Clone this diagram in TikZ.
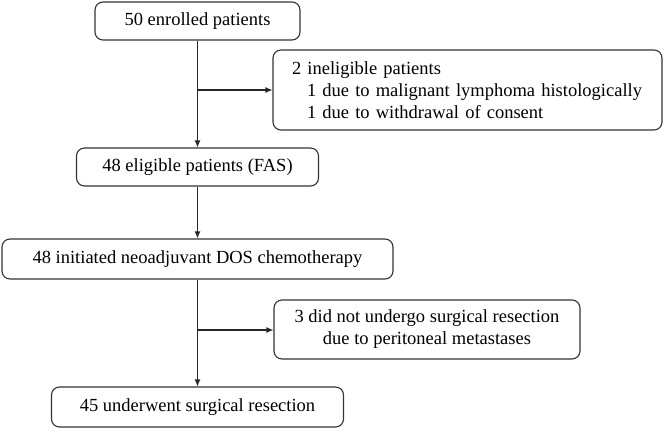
\documentclass[tikz,border=0pt]{standalone}
\usepackage{fontspec}
\setmainfont{LiberationSerif}[Extension=.ttf,UprightFont=*-Regular,BoldFont=*-Bold]
\usetikzlibrary{arrows.meta}
\begin{document}
\begin{tikzpicture}[x=1pt,y=-1pt,
  box/.style={draw=black!80,line width=1.1pt,rounded corners=8pt,inner sep=0pt,align=center,font=\rmfamily\fontsize{18.5}{22}\selectfont},
  arr/.style={draw=black!85,line width=1.1pt,-{Latex[length=7pt,width=6pt]}},
  ln/.style={draw=black!85,line width=1.1pt}]
\useasboundingbox (0,0) rectangle (664,428);
\node[box,minimum width=205pt,minimum height=38pt] (b1) at (197.5,21) {50 enrolled patients};
\node[box,minimum width=389pt,minimum height=80pt,text width=351pt,align=left] (b2) at (467.5,90) {2 ineligible patients\\\hspace*{15pt}1 due to malignant lymphoma histologically\\\hspace*{15pt}1 due to withdrawal of consent};
\node[box,minimum width=242pt,minimum height=38pt] (b3) at (197.5,167) {48 eligible patients (FAS)};
\node[box,minimum width=391pt,minimum height=40pt] (b4) at (197.5,259) {48 initiated neoadjuvant DOS chemotherapy};
\node[box,minimum width=306pt,minimum height=59pt] (b5) at (427,329.5) {3 did not undergo surgical resection\\due to peritoneal metastases};
\node[box,minimum width=292pt,minimum height=40pt] (b6) at (197.5,407) {45 underwent surgical resection};
\coordinate (j1) at (197.5,90);
\coordinate (j2) at (197.5,330);
\draw[arr] (b1.south) -- (b3.north);
\draw[arr] (j1) -- (b2.west);
\draw[arr] (b3.south) -- (b4.north);
\draw[arr] (b4.south) -- (b6.north);
\draw[arr] (j2) -- (b5.west |- j2);
\end{tikzpicture}
\end{document}
